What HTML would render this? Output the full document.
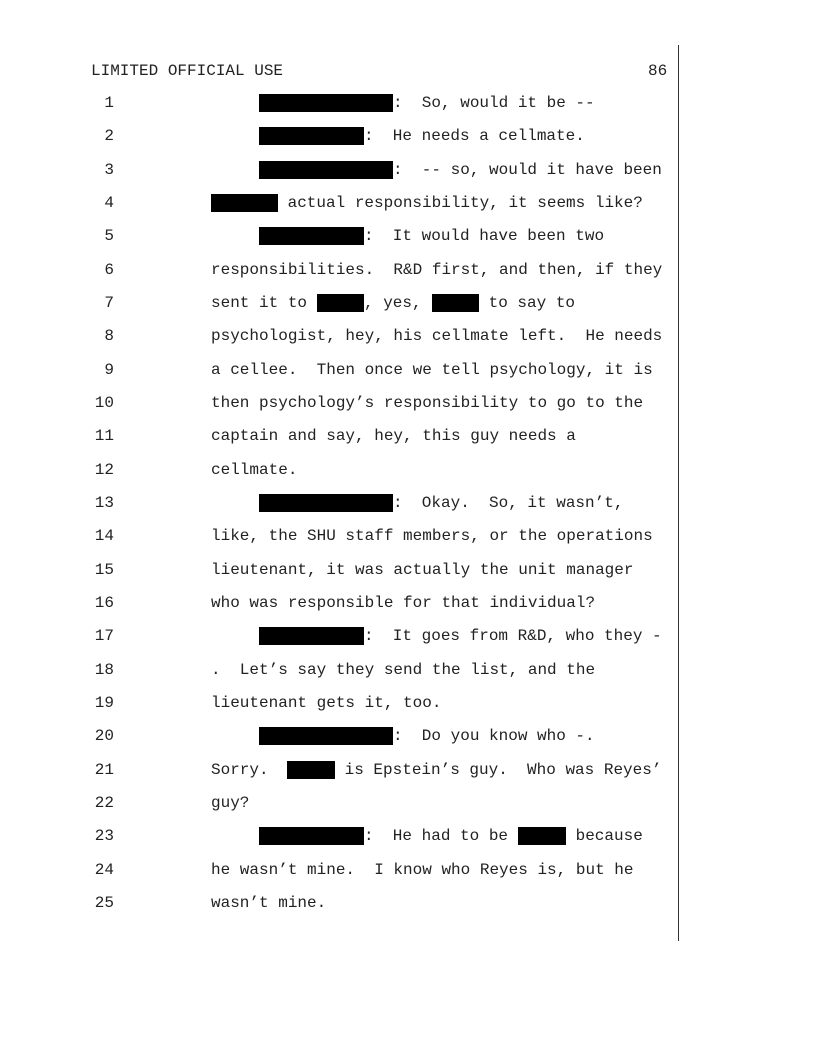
<!DOCTYPE html>
<html><head><meta charset="utf-8"><style>
body{margin:0;width:816px;height:1056px;background:#fff;position:relative;overflow:hidden;font-family:"Liberation Mono",monospace;font-size:16px;color:#222}
.l{position:absolute;height:20px;line-height:20px;white-space:pre}
.n{position:absolute;width:30px;text-align:right;left:84px;height:20px;line-height:20px}
.b{position:absolute;background:#000;height:18px}
</style></head><body>
<div class="l" style="left:91px;top:61px">LIMITED OFFICIAL USE</div>
<div class="l" style="left:648px;top:61px">86</div>
<div style="position:absolute;left:678px;top:45px;width:1px;height:896px;background:#333"></div>
<div id="c"></div>
<script>
var lines=[
[[259,134],[393,":  So, would it be --"]],
[[259,105],[364,":  He needs a cellmate."]],
[[259,134],[393,":  -- so, would it have been"]],
[[211,67],[278," actual responsibility, it seems like?"]],
[[259,105],[364,":  It would have been two"]],
[[211,"responsibilities.  R&D first, and then, if they"]],
[[211,"sent it to "],[317,47],[364,", yes, "],[432,47],[479," to say to"]],
[[211,"psychologist, hey, his cellmate left.  He needs"]],
[[211,"a cellee.  Then once we tell psychology, it is"]],
[[211,"then psychology\u2019s responsibility to go to the"]],
[[211,"captain and say, hey, this guy needs a"]],
[[211,"cellmate."]],
[[259,134],[393,":  Okay.  So, it wasn\u2019t,"]],
[[211,"like, the SHU staff members, or the operations"]],
[[211,"lieutenant, it was actually the unit manager"]],
[[211,"who was responsible for that individual?"]],
[[259,105],[364,":  It goes from R&D, who they -"]],
[[211,".  Let\u2019s say they send the list, and the"]],
[[211,"lieutenant gets it, too."]],
[[259,134],[393,":  Do you know who -."]],
[[211,"Sorry.  "],[287,48],[335," is Epstein\u2019s guy.  Who was Reyes\u2019"]],
[[211,"guy?"]],
[[259,105],[364,":  He had to be "],[518,48],[566," because"]],
[[211,"he wasn\u2019t mine.  I know who Reyes is, but he"]],
[[211,"wasn\u2019t mine."]]
];
var h="";
lines.forEach(function(L,i){
 var t=Math.round(103+i*33.33-10);
 h+='<div class="n" style="top:'+t+'px">'+(i+1)+'</div>';
 L.forEach(function(s){
  if(typeof s[1]==="number") h+='<div class="b" style="left:'+s[0]+'px;top:'+(t+1)+'px;width:'+s[1]+'px"></div>';
  else h+='<div class="l" style="left:'+s[0]+'px;top:'+t+'px">'+s[1].replace(/&/g,"&amp;")+'</div>';
 });
});
document.getElementById("c").innerHTML=h;
</script>
</body></html>
